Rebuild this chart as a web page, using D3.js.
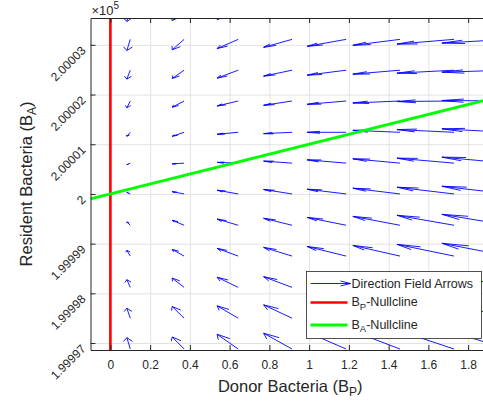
<!DOCTYPE html>
<html>
<head>
<meta charset="utf-8">
<script src="https://cdn.jsdelivr.net/npm/d3@7"></script>
<style>
body { margin: 0; background: #fff; }
svg text { font-family: "Liberation Sans", Arial, sans-serif; fill: #262626; }
</style>
</head>
<body>
<svg class="phase_chart" width="483" height="402"></svg>
<script>
// axis limits and ticks
var xDomain = [-0.1, 1.91];
var yDomain = [199996.86, 200003.54];
var xTicks = [0, 0.2, 0.4, 0.6, 0.8, 1, 1.2, 1.4, 1.6, 1.8];
var xTickLabels = ["0", "0.2", "0.4", "0.6", "0.8", "1", "1.2", "1.4", "1.6", "1.8"];
var yTicks = [199997, 199998, 199999, 200000, 200001, 200002, 200003];
var yTickLabels = ["1.99997", "1.99998", "1.99999", "2", "2.00001", "2.00002", "2.00003"];

// quiver grid (arrow tails)
var bpGrid = [0.1, 0.371, 0.643, 0.914, 1.186, 1.457, 1.729, 2.0];
var baGrid = [199996.88, 199997.5, 199998.12, 199998.75, 199999.37, 200000.0,
              200000.62, 200001.24, 200001.87, 200002.49, 200003.11, 200003.74];

// scaled arrow components
var dBP = [-0.017, -0.060, -0.106, -0.143, -0.196, -0.237, -0.287, -0.332];
var dBA = [
    [0.228, 0.242, 0.296, 0.318, 0.340, 0.361, 0.382, 0.403],
    [0.200, 0.235, 0.248, 0.268, 0.291, 0.312, 0.334, 0.355],
    [0.155, 0.187, 0.205, 0.215, 0.242, 0.263, 0.284, 0.305],
    [0.115, 0.135, 0.155, 0.175, 0.193, 0.214, 0.236, 0.257],
    [0.066, 0.100, 0.125, 0.140, 0.158, 0.178, 0.200, 0.220],
    [0.030, 0.046, 0.075, 0.090, 0.095, 0.115, 0.135, 0.155],
    [-0.030, -0.015, 0.015, 0.040, 0.066, 0.087, 0.100, 0.120],
    [-0.080, -0.080, -0.040, -0.027, 0.000, 0.040, 0.055, 0.070],
    [-0.135, -0.125, -0.100, -0.087, -0.067, -0.040, -0.010, 0.010],
    [-0.180, -0.167, -0.160, -0.120, -0.100, -0.080, -0.060, -0.040],
    [-0.225, -0.210, -0.185, -0.160, -0.140, -0.120, -0.095, -0.075],
    [-0.270, -0.250, -0.230, -0.210, -0.190, -0.170, -0.145, -0.125]
];

// nullclines
var bpNullX = [0, 0];
var bpNullY = [199996.86, 200003.54];
var baNullX = [-0.1, 1.91];
var baNullY = [199999.9, 200001.91];

var legendItems = ["Direction Field Arrows", "P", "A"];

var svg = d3.select('.phase_chart');

var margin = { top: 18, right: -7, bottom: 52, left: 90.5 },
    width = +svg.attr("width") - margin.left - margin.right,
    height = +svg.attr("height") - margin.top - margin.bottom;

var axisColor = "#262626";

var xScale = d3.scaleLinear().domain(xDomain).range([0, width]);
var yScale = d3.scaleLinear().domain(yDomain).range([height, 0]);

var g = svg.append("g")
    .attr("transform", "translate(" + margin.left + "," + margin.top + ")");

g.append("defs").append("clipPath")
    .attr("id", "clip")
    .append("rect")
    .attr("width", width)
    .attr("height", height);

// grid
var gridX = g.append("g")
    .attr("transform", "translate(0," + height + ")")
    .call(d3.axisBottom(xScale).tickValues(xTicks).tickSize(-height).tickFormat(""));
var gridY = g.append("g")
    .call(d3.axisLeft(yScale).tickValues(yTicks).tickSize(-width).tickFormat(""));
[gridX, gridY].forEach(function (gr) {
    gr.select(".domain").remove();
    gr.selectAll("line").attr("stroke", "#e3e3e3").attr("stroke-width", 1);
});

var chart = g.append("g").attr("clip-path", "url(#clip)");

// quiver arrows, head computed in data space like matlab
function arrowPath(x0, y0, u, v) {
    var alpha = 0.33, beta = 0.3;
    var x1 = x0 + u, y1 = y0 + v;
    var p = [
        [x0, y0], [x1, y1],
        [x1 - alpha * (u + beta * v), y1 - alpha * (v - beta * u)],
        [x1 - alpha * (u - beta * v), y1 - alpha * (v + beta * u)]
    ].map(function (d) { return xScale(d[0]).toFixed(2) + "," + yScale(d[1]).toFixed(2); });
    return "M" + p[0] + "L" + p[1] + "M" + p[2] + "L" + p[1] + "L" + p[3];
}

var arrows = [];
baGrid.forEach(function (ba, i) {
    bpGrid.forEach(function (bp, j) {
        arrows.push({ bp: bp, ba: ba, u: dBP[j], v: dBA[i][j] });
    });
});

chart.selectAll(".arrow")
    .data(arrows).enter()
    .append("path")
    .attr("class", "arrow")
    .attr("d", function (d) { return arrowPath(d.bp, d.ba, d.u, d.v); })
    .attr("fill", "none")
    .attr("stroke", "#0000ff")
    .attr("stroke-width", 0.9);

var line = d3.line()
    .x(function (d) { return xScale(d[0]); })
    .y(function (d) { return yScale(d[1]); });

chart.append("path")
    .datum(d3.zip(bpNullX, bpNullY))
    .attr("d", line)
    .attr("stroke", "#ff0000")
    .attr("stroke-width", 2.6)
    .attr("fill", "none");

chart.append("path")
    .datum(d3.zip(baNullX, baNullY))
    .attr("d", line)
    .attr("stroke", "#00ff00")
    .attr("stroke-width", 3)
    .attr("fill", "none");

// axes
var xAxis = g.append("g")
    .attr("transform", "translate(0," + height + ")")
    .call(d3.axisBottom(xScale).tickValues(xTicks).tickSizeInner(-5).tickSizeOuter(0).tickPadding(10)
        .tickFormat(function (d, i) { return xTickLabels[i]; }));

var topAxis = g.append("g")
    .call(d3.axisTop(xScale).tickValues(xTicks).tickSizeInner(-5).tickSizeOuter(0).tickFormat(""));

var yAxis = g.append("g")
    .call(d3.axisLeft(yScale).tickValues(yTicks).tickSizeInner(-5).tickSizeOuter(0)
        .tickFormat(function (d, i) { return yTickLabels[i]; }));

[xAxis, topAxis, yAxis].forEach(function (ax) {
    ax.select(".domain").attr("stroke", axisColor).attr("stroke-width", 1);
    ax.selectAll(".tick line").attr("stroke", axisColor).attr("stroke-width", 1);
    ax.selectAll("text").attr("font-size", 12).style("font-family", '"Liberation Sans", Arial, sans-serif');
});

yAxis.selectAll(".tick text")
    .attr("x", 0)
    .attr("dy", "0.35em")
    .attr("text-anchor", "end")
    .attr("transform", "translate(-7,3) rotate(-45)");

// x10^5 exponent
var expo = svg.append("text")
    .attr("x", margin.left + 1)
    .attr("y", 15)
    .style("font-size", "13px");
expo.append("tspan").text("\u00d710");
expo.append("tspan").style("font-size", "10px").attr("dy", -6).text("5");

// axis labels
var xLab = svg.append("text")
    .attr("x", margin.left + width / 2)
    .attr("y", 392)
    .attr("text-anchor", "middle")
    .attr("font-size", 16.5);
xLab.append("tspan").text("Donor Bacteria (B");
xLab.append("tspan").attr("font-size", 12).attr("dy", 4).text("P");
xLab.append("tspan").attr("dy", -4).text(")");

var yLab = svg.append("text")
    .attr("transform", "translate(32," + (margin.top + height / 2) + ") rotate(-90)")
    .attr("text-anchor", "middle")
    .attr("font-size", 16.5);
yLab.append("tspan").text("Resident Bacteria (B");
yLab.append("tspan").attr("font-size", 12).attr("dy", 4).text("A");
yLab.append("tspan").attr("dy", -4).text(")");

// legend
var legend = svg.append("g").attr("transform", "translate(306.5,271.5)");
legend.append("rect")
    .attr("width", 175)
    .attr("height", 67)
    .attr("fill", "#fff")
    .attr("stroke", axisColor)
    .attr("stroke-width", 0.8);

legend.append("path")
    .attr("d", "M4,12H44M34,9.5L44,12L34,14.5")
    .attr("stroke", "#0000ff")
    .attr("fill", "none")
    .attr("stroke-width", 0.9);
legend.append("line")
    .attr("x1", 4).attr("x2", 41).attr("y1", 31).attr("y2", 31)
    .attr("stroke", "#ff0000").attr("stroke-width", 2.6);
legend.append("line")
    .attr("x1", 4).attr("x2", 41).attr("y1", 53.5).attr("y2", 53.5)
    .attr("stroke", "#00ff00").attr("stroke-width", 3);

legend.append("text")
    .attr("x", 45).attr("y", 16.5)
    .attr("font-size", 12.5)
    .text(legendItems[0]);

[legendItems[1], legendItems[2]].forEach(function (s, i) {
    var t = legend.append("text")
        .attr("x", 45).attr("y", i === 0 ? 34.5 : 57)
        .attr("font-size", 12.5);
    t.append("tspan").text("B");
    t.append("tspan").attr("font-size", 9.5).attr("dy", 3.5).text(s);
    t.append("tspan").attr("dy", -3.5).text("-Nullcline");
});
</script>
</body>
</html>
